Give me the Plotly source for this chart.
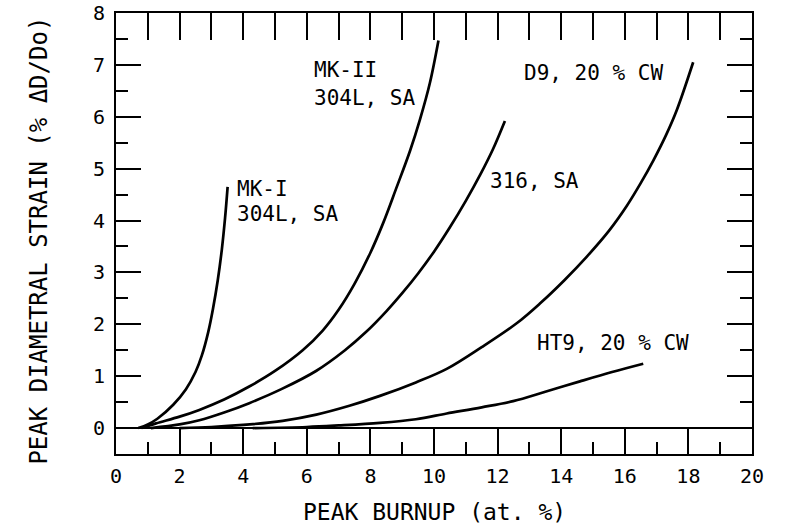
import plotly.graph_objects as go

# Peak burnup (at. %) vs peak diametral strain (% ΔD/Do)
mk1_x = [0.7, 1.0, 1.3, 1.8, 2.2, 2.5, 2.7, 2.9, 3.05, 3.2, 3.33, 3.43, 3.51]
mk1_y = [0.0, 0.07, 0.18, 0.45, 0.75, 1.08, 1.4, 1.85, 2.3, 2.85, 3.45, 4.05, 4.65]

mk2_x = [0.8, 1.26, 2.0, 2.62, 3.4, 4.19, 5.0, 5.87, 6.5, 7.0, 7.5, 8.0, 8.4, 8.8, 9.25, 9.56, 9.87, 10.14]
mk2_y = [0.0, 0.09, 0.22, 0.35, 0.55, 0.8, 1.1, 1.5, 1.88, 2.28, 2.78, 3.38, 3.95, 4.6, 5.35, 5.95, 6.65, 7.47]

s316_x = [1.1, 2.0, 2.62, 3.4, 4.19, 5.2, 6.29, 7.2, 7.86, 8.5, 9.0, 9.5, 10.0, 10.5, 11.0, 11.45, 11.85, 12.23]
s316_y = [0.0, 0.07, 0.15, 0.3, 0.48, 0.75, 1.1, 1.5, 1.85, 2.25, 2.6, 2.98, 3.4, 3.87, 4.38, 4.88, 5.37, 5.92]

d9_x = [2.0, 3.0, 4.0, 5.24, 6.3, 7.34, 8.3, 9.43, 10.4, 11.5, 12.6, 13.33, 14.1, 14.8, 15.5, 16.06, 16.5, 16.9, 17.3, 17.63, 18.15]
d9_y = [0.0, 0.02, 0.06, 0.14, 0.26, 0.43, 0.62, 0.88, 1.14, 1.56, 2.02, 2.4, 2.85, 3.3, 3.8, 4.28, 4.72, 5.16, 5.65, 6.12, 7.05]

ht9_x = [4.3, 6.0, 7.0, 8.3, 9.43, 10.4, 11.5, 12.49, 13.5, 14.59, 15.6, 16.58]
ht9_y = [0.0, 0.02, 0.05, 0.1, 0.17, 0.28, 0.4, 0.52, 0.7, 0.9, 1.08, 1.24]

labels = ["MK-II", "304L, SA", "MK-I", "304L, SA", "316, SA", "D9, 20 % CW", "HT9, 20 % CW"]
label_x = [6.16, 6.16, 3.74, 3.74, 11.70, 12.77, 13.18]
label_y = [6.91, 6.37, 4.61, 4.13, 4.76, 6.85, 1.63]

x_ticks = list(range(0, 21, 2))
y_ticks = list(range(0, 9))

FONT = "DejaVu Sans Mono"

fig = go.Figure()
for xs, ys in [(mk1_x, mk1_y), (mk2_x, mk2_y), (s316_x, s316_y), (d9_x, d9_y), (ht9_x, ht9_y)]:
    fig.add_trace(go.Scatter(x=xs, y=ys, mode="lines",
                             line=dict(color="black", width=2.7, shape="spline", smoothing=1.0),
                             hoverinfo="skip", showlegend=False))
# invisible trace to carry the top tick axis
fig.add_trace(go.Scatter(x=[0, 20], y=[None, None], xaxis="x2", mode="lines",
                         showlegend=False, hoverinfo="skip"))

annotations = []
for t, ax, ay in zip(labels, label_x, label_y):
    annotations.append(dict(x=ax, y=ay, xref="x", yref="y", text=t, showarrow=False,
                            xanchor="left", yanchor="middle",
                            font=dict(family=FONT, size=21, color="black")))
annotations.append(dict(x=0.5, y=-0.1315, xref="paper", yref="paper", text="PEAK BURNUP (at. %)",
                        showarrow=False, xanchor="center", yanchor="middle",
                        font=dict(family=FONT, size=23, color="black")))
annotations.append(dict(x=-0.121, y=0.484, xref="paper", yref="paper",
                        text="PEAK DIAMETRAL STRAIN (% ΔD/Do)", textangle=-90,
                        showarrow=False, xanchor="center", yanchor="middle",
                        font=dict(family=FONT, size=24, color="black")))

fig.update_layout(
    width=789, height=527,
    margin=dict(l=116, r=37, t=13, b=73, autoexpand=False),
    paper_bgcolor="white", plot_bgcolor="white",
    annotations=annotations,
    xaxis=dict(range=[0, 20], tickmode="array", tickvals=x_ticks, ticktext=[str(v) for v in x_ticks],
               ticks="inside", ticklen=25, tickwidth=2, tickcolor="black",
               showline=True, linecolor="black", linewidth=2, mirror=True,
               showgrid=False, zeroline=False, automargin=False,
               tickfont=dict(family=FONT, size=20, color="black"),
               ticklabelstandoff=3,
               minor=dict(ticks="inside", ticklen=12, tickwidth=2, tickcolor="black",
                          tickmode="linear", tick0=1, dtick=2, showgrid=False)),
    xaxis2=dict(overlaying="x", side="top", anchor="y", range=[0, 20], automargin=False,
                tickmode="linear", tick0=0, dtick=1, ticks="inside", ticklen=27,
                tickwidth=2, tickcolor="black", showticklabels=False,
                showgrid=False, zeroline=False, showline=False),
    yaxis=dict(range=[-0.5, 8], tickmode="array", tickvals=y_ticks, ticktext=[str(v) for v in y_ticks],
               ticks="inside", ticklen=25, tickwidth=2, tickcolor="black",
               showline=True, linecolor="black", linewidth=2, mirror="ticks",
               showgrid=False, zeroline=True, zerolinecolor="black", zerolinewidth=2,
               automargin=False,
               tickfont=dict(family=FONT, size=20, color="black"),
               ticklabelstandoff=5,
               minor=dict(ticks="inside", ticklen=12, tickwidth=2, tickcolor="black",
                          tickmode="linear", tick0=0.5, dtick=1, showgrid=False)),
)

fig.write_html("out.html", config={"displayModeBar": False, "staticPlot": True},
               post_script="document.body.style.margin='0';document.body.style.overflow='hidden';")
